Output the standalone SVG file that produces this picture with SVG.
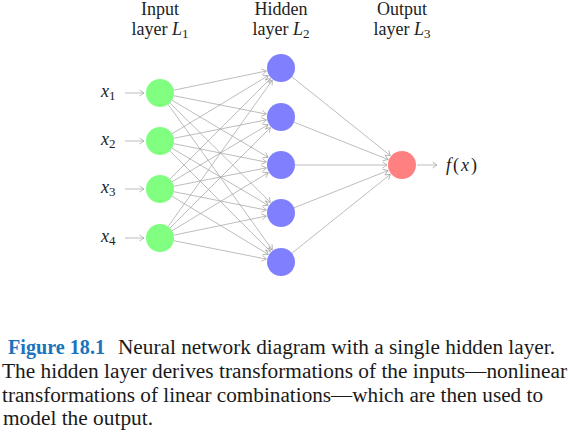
<svg xmlns="http://www.w3.org/2000/svg" width="570" height="432" viewBox="0 0 570 432">
<style>
.hd{font-family:"Liberation Serif","DejaVu Serif",serif;font-size:18px;fill:#222;text-anchor:middle}
.m{font-family:"Liberation Serif","DejaVu Serif",serif;font-style:italic;font-size:18px;fill:#222}
.sub{font-style:normal;font-size:13px}
.cap{font-family:"Liberation Serif","Times New Roman",serif;font-size:20.5px;fill:#1a1a1a}
.fig{font-weight:bold;fill:#1b75bc}
.e line{stroke:#a0a0a0;stroke-width:0.7;marker-end:url(#a)}
.in{fill:#80ff80}.hid{fill:#8080ff}.out{fill:#ff8080}
</style>
<defs>
<marker id="a" markerUnits="userSpaceOnUse" markerWidth="10" markerHeight="10" viewBox="-6 -5 8 10" refX="0" refY="0" orient="auto">
<path d="M-4.5,-3 L0,0 L-4.5,3" fill="none" stroke="#a0a0a0" stroke-width="0.7"/>
</marker>
</defs>
<rect width="570" height="432" fill="#fff"/>
<g id="headers">
<text class="hd" x="160" y="15">Input</text>
<text class="hd" x="160" y="35">layer <tspan font-style="italic">L</tspan><tspan class="sub" dy="3">1</tspan></text>
<text class="hd" x="281" y="15">Hidden</text>
<text class="hd" x="281" y="35">layer <tspan font-style="italic">L</tspan><tspan class="sub" dy="3">2</tspan></text>
<text class="hd" x="402" y="15">Output</text>
<text class="hd" x="402" y="35">layer <tspan font-style="italic">L</tspan><tspan class="sub" dy="3">3</tspan></text>
</g>
<g id="connectors" class="e">
<line x1="125" y1="93" x2="144" y2="93"/>
<line x1="125" y1="141" x2="144" y2="141"/>
<line x1="125" y1="189" x2="144" y2="189"/>
<line x1="125" y1="238" x2="144" y2="238"/>
<line x1="173.7" y1="90.2" x2="266.3" y2="71.0"/>
<line x1="173.7" y1="95.7" x2="266.3" y2="114.1"/>
<line x1="172.0" y1="100.2" x2="268.1" y2="157.3"/>
<line x1="169.9" y1="102.9" x2="270.4" y2="202.4"/>
<line x1="168.1" y1="104.4" x2="272.3" y2="249.8"/>
<line x1="172.0" y1="133.8" x2="268.2" y2="75.7"/>
<line x1="173.7" y1="138.3" x2="266.3" y2="119.9"/>
<line x1="173.7" y1="143.7" x2="266.3" y2="162.1"/>
<line x1="172.0" y1="148.2" x2="268.1" y2="205.3"/>
<line x1="169.9" y1="150.9" x2="270.4" y2="251.4"/>
<line x1="169.9" y1="179.1" x2="270.4" y2="78.6"/>
<line x1="172.0" y1="181.8" x2="268.1" y2="124.7"/>
<line x1="173.7" y1="186.3" x2="266.3" y2="167.9"/>
<line x1="173.7" y1="191.7" x2="266.3" y2="210.1"/>
<line x1="172.0" y1="196.2" x2="268.2" y2="254.3"/>
<line x1="168.1" y1="226.6" x2="272.3" y2="80.2"/>
<line x1="169.9" y1="228.1" x2="270.4" y2="127.6"/>
<line x1="172.0" y1="230.8" x2="268.2" y2="172.7"/>
<line x1="173.7" y1="235.2" x2="266.3" y2="216.0"/>
<line x1="173.7" y1="240.7" x2="266.3" y2="259.1"/>
<line x1="291.9" y1="76.8" x2="390.3" y2="155.6"/>
<line x1="294.0" y1="122.2" x2="388.1" y2="159.5"/>
<line x1="295" y1="165" x2="387" y2="165"/>
<line x1="294.0" y1="207.8" x2="388.1" y2="170.5"/>
<line x1="291.9" y1="253.2" x2="390.3" y2="174.4"/>
<line x1="417" y1="165" x2="437" y2="165"/>
</g>
<g id="x1"><text class="m" x="101" y="97">x<tspan class="sub" dy="3">1</tspan></text><circle class="in" cx="160" cy="93" r="14"/></g>
<g id="x2"><text class="m" x="101" y="145">x<tspan class="sub" dy="3">2</tspan></text><circle class="in" cx="160" cy="141" r="14"/></g>
<g id="x3"><text class="m" x="101" y="193">x<tspan class="sub" dy="3">3</tspan></text><circle class="in" cx="160" cy="189" r="14"/></g>
<g id="x4"><text class="m" x="101" y="242">x<tspan class="sub" dy="3">4</tspan></text><circle class="in" cx="160" cy="238" r="14"/></g>
<g id="h1"><circle class="hid" cx="281" cy="68" r="14"/></g>
<g id="h2"><circle class="hid" cx="281" cy="117" r="14"/></g>
<g id="h3"><circle class="hid" cx="281" cy="165" r="14"/></g>
<g id="h4"><circle class="hid" cx="281" cy="213" r="14"/></g>
<g id="h5"><circle class="hid" cx="281" cy="262" r="14"/></g>
<g id="out"><circle class="out" cx="402" cy="165" r="14"/><text class="m" x="446" y="171" textLength="31" lengthAdjust="spacing">f<tspan font-style="normal">(</tspan>x<tspan font-style="normal">)</tspan></text></g>
<g id="caption">
<text class="cap" x="8" y="354"><tspan class="fig" textLength="97" lengthAdjust="spacingAndGlyphs">Figure 18.1</tspan></text>
<text class="cap" x="118" y="354" textLength="437" lengthAdjust="spacingAndGlyphs">Neural network diagram with a single hidden layer.</text>
<text class="cap" x="2" y="378" textLength="565" lengthAdjust="spacingAndGlyphs">The hidden layer derives transformations of the inputs—nonlinear</text>
<text class="cap" x="2" y="401.5" textLength="541" lengthAdjust="spacingAndGlyphs">transformations of linear combinations—which are then used to</text>
<text class="cap" x="3" y="425" textLength="150" lengthAdjust="spacingAndGlyphs">model the output.</text>
</g>
</svg>
